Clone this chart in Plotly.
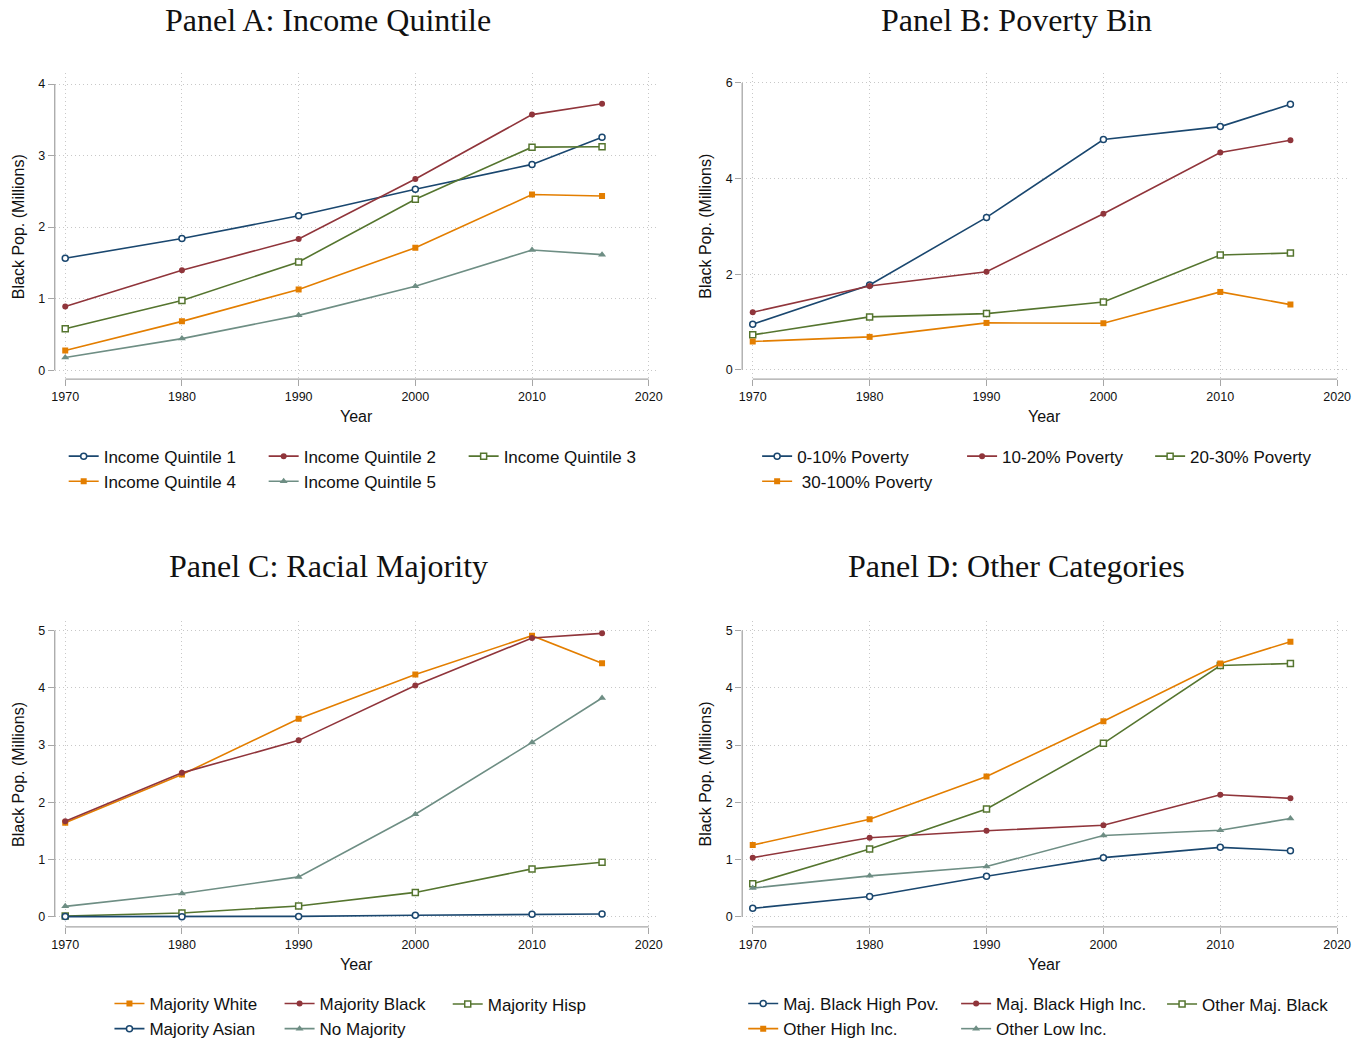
import plotly.graph_objects as go

W, H = 1372, 1047

years = [1970, 1980, 1990, 2000, 2010, 2016]

# Panel A: Income Quintile
inc_q1 = [1.564, 1.842, 2.158, 2.529, 2.877, 3.258]
inc_q2 = [0.891, 1.397, 1.833, 2.673, 3.573, 3.726]
inc_q3 = [0.580, 0.974, 1.513, 2.390, 3.118, 3.123]
inc_q4 = [0.274, 0.682, 1.128, 1.712, 2.455, 2.436]
inc_q5 = [0.176, 0.441, 0.766, 1.174, 1.680, 1.615]

# Panel B: Poverty Bin
pov_0_10 = [0.954, 1.775, 3.188, 4.817, 5.088, 5.554]
pov_10_20 = [1.204, 1.754, 2.053, 3.264, 4.545, 4.803]
pov_20_30 = [0.731, 1.107, 1.176, 1.420, 2.401, 2.443]
pov_30_100 = [0.592, 0.689, 0.981, 0.974, 1.629, 1.364]

# Panel C: Racial Majority
maj_white = [1.642, 2.486, 3.457, 4.231, 4.908, 4.428]
maj_black = [1.671, 2.514, 3.081, 4.040, 4.867, 4.948]
maj_hisp = [0.017, 0.069, 0.191, 0.428, 0.838, 0.954]
maj_asian = [0.006, 0.005, 0.010, 0.030, 0.046, 0.052]
no_major = [0.185, 0.410, 0.699, 1.792, 3.046, 3.821]

# Panel D: Other Categories
mb_high_pov = [0.150, 0.358, 0.711, 1.035, 1.214, 1.156]
mb_high_inc = [1.035, 1.382, 1.503, 1.601, 2.133, 2.069]
oth_maj_black = [0.578, 1.185, 1.884, 3.029, 4.387, 4.422]
oth_high_inc = [1.254, 1.705, 2.451, 3.416, 4.422, 4.803]
oth_low_inc = [0.503, 0.717, 0.879, 1.422, 1.514, 1.717]

x_ticks = [1970, 1980, 1990, 2000, 2010, 2020]
y_ticks_a = [0, 1, 2, 3, 4]
y_ticks_b = [0, 2, 4, 6]
y_ticks_c = [0, 1, 2, 3, 4, 5]
y_ticks_d = [0, 1, 2, 3, 4, 5]

titles = ["Panel A: Income Quintile", "Panel B: Poverty Bin",
          "Panel C: Racial Majority", "Panel D: Other Categories"]

NAVY = "#1a476f"
MAROON = "#90353b"
GREEN = "#55752f"
ORANGE = "#e37e00"
TEAL = "#6e8e84"

STYLE = {
    "hcircle": (NAVY, "circle", True),
    "scircle": (MAROON, "circle", False),
    "hsquare": (GREEN, "square", True),
    "ssquare": (ORANGE, "square", False),
    "tri": (TEAL, "triangle-up", False),
}

SANS = "Arial, Liberation Sans, Helvetica, sans-serif"
SERIF = "Times New Roman, Liberation Serif, Times, serif"

fig = go.Figure()


def px_x(p):
    return p / W


def px_y(p):
    return 1 - p / H


# panel geometry (pixels)
panels = [
    dict(ax="", xd=(52, 659), yd=(74, 382), yr=(-0.125, 4.149), yt=y_ticks_a, title_c=(327, 20)),
    dict(ax="2", xd=(743, 1351), yd=(74, 382), yr=(-0.194, 6.2), yt=y_ticks_b, title_c=(1019, 20)),
    dict(ax="3", xd=(52, 659), yd=(626, 934), yr=(-0.173, 5.16), yt=y_ticks_c, title_c=(327, 570)),
    dict(ax="4", xd=(743, 1351), yd=(626, 934), yr=(-0.173, 5.16), yt=y_ticks_d, title_c=(1019, 570)),
]

series = [
    # panel, name, data, style, legend column index within panel
    (0, "Income Quintile 1", inc_q1, "hcircle", 0),
    (0, "Income Quintile 2", inc_q2, "scircle", 1),
    (0, "Income Quintile 3", inc_q3, "hsquare", 2),
    (0, "Income Quintile 4", inc_q4, "ssquare", 0),
    (0, "Income Quintile 5", inc_q5, "tri", 1),
    (1, "0-10% Poverty", pov_0_10, "hcircle", 0),
    (1, "10-20% Poverty", pov_10_20, "scircle", 1),
    (1, "20-30% Poverty", pov_20_30, "hsquare", 2),
    (1, "\u00a030-100% Poverty", pov_30_100, "ssquare", 0),
    (2, "Majority White", maj_white, "ssquare", 0),
    (2, "Majority Black", maj_black, "scircle", 1),
    (2, "Majority Hisp", maj_hisp, "hsquare", 2),
    (2, "Majority Asian", maj_asian, "hcircle", 0),
    (2, "No Majority", no_major, "tri", 1),
    (3, "Maj. Black High Pov.", mb_high_pov, "hcircle", 0),
    (3, "Maj. Black High Inc.", mb_high_inc, "scircle", 1),
    (3, "Other Maj. Black", oth_maj_black, "hsquare", 2),
    (3, "Other High Inc.", oth_high_inc, "ssquare", 0),
    (3, "Other Low Inc.", oth_low_inc, "tri", 1),
]

# legend column text start x (px) and first row center y (px)
legend_cols = [
    [104, 305, 506],
    [801, 1007, 1196],
    [150, 321, 490],
    [787, 1001, 1208],
]
legend_row1 = [459, 459, 1011, 1011]

TEXT_OFF = 43  # px from legend left edge to text start
ROW_OFF = 17   # px from legend top to first row center

legend_ids = {}
lid = 0
for p in range(4):
    for c in range(3):
        lid += 1
        legend_ids[(p, c)] = "legend" if lid == 1 else f"legend{lid}"

for p, name, data, sty, col in series:
    color, sym, hollow = STYLE[sty]
    ax = panels[p]["ax"]
    size = 7 if sym == "triangle-up" else 6
    marker = dict(symbol=sym, size=size,
                  color="white" if hollow else color,
                  line=dict(color=color, width=1.5 if hollow else 0))
    fig.add_trace(go.Scatter(
        x=years, y=data, name=name, mode="lines+markers",
        line=dict(color=color, width=1.6),
        marker=marker,
        xaxis="x" + ax, yaxis="y" + ax,
        legend=legend_ids[(p, col)],
    ))

layout = dict(
    width=W, height=H,
    margin=dict(l=0, r=0, t=0, b=0),
    paper_bgcolor="white", plot_bgcolor="white",
    font=dict(family=SANS, color="#111111"),
    annotations=[], shapes=[],
)

GRID = "#c8c8c8"
AXC = "#a6a6a6"

for i, pn in enumerate(panels):
    ax = pn["ax"]
    xkey = "xaxis" + ax
    ykey = "yaxis" + ax
    layout[xkey] = dict(
        domain=[px_x(pn["xd"][0]), px_x(pn["xd"][1])],
        range=[1969.1, 2020.85],
        anchor="y" + ax,
        tickvals=x_ticks, ticks="outside", ticklen=6, tickcolor=AXC, tickwidth=1,
        tickfont=dict(size=12.5, family=SANS, color="#111111"),
        showgrid=True, gridcolor=GRID, griddash="1px,3px", gridwidth=1,
        showline=False, zeroline=False, fixedrange=True,
    )
    layout[ykey] = dict(
        domain=[px_y(pn["yd"][1]), px_y(pn["yd"][0])],
        range=list(pn["yr"]),
        anchor="x" + ax,
        tickvals=pn["yt"], ticks="outside", ticklen=6, tickcolor=AXC, tickwidth=1,
        tickfont=dict(size=12.5, family=SANS, color="#111111"),
        showgrid=True, gridcolor=GRID, griddash="1px,3px", gridwidth=1,
        showline=False, zeroline=False, fixedrange=True,
    )
    xr = "x" + ax
    yr = "y" + ax
    # axis lines spanning the tick range (Stata style)
    layout["shapes"].append(dict(type="line", xref=xr, yref=yr + " domain",
                                 x0=x_ticks[0], x1=x_ticks[-1], y0=0, y1=0,
                                 line=dict(color=AXC, width=1.3)))
    layout["shapes"].append(dict(type="line", xref=xr + " domain", yref=yr,
                                 x0=0, x1=0, y0=pn["yt"][0], y1=pn["yt"][-1],
                                 line=dict(color=AXC, width=1.3)))
    # panel title
    layout["annotations"].append(dict(
        text=titles[i], xref="paper", yref="paper",
        x=px_x(pn["title_c"][0]), y=px_y(pn["title_c"][1]),
        xanchor="center", yanchor="middle", showarrow=False,
        font=dict(family=SERIF, size=32, color="#111111")))
    # axis titles
    layout["annotations"].append(dict(
        text="Year", xref=xr + " domain", yref="paper",
        x=0.5, y=px_y(pn["yd"][1] + 38),
        xanchor="center", yanchor="middle", showarrow=False,
        font=dict(family=SANS, size=16, color="#111111")))
    layout["annotations"].append(dict(
        text="Black Pop. (Millions)", xref="paper", yref=yr + " domain",
        x=px_x(pn["xd"][0] - 37), y=0.5, textangle=-90,
        xanchor="center", yanchor="middle", showarrow=False,
        font=dict(family=SANS, size=16, color="#111111")))
    # legends
    for c in range(3):
        key = legend_ids[(i, c)]
        layout[key] = dict(
            x=px_x(legend_cols[i][c] - TEXT_OFF),
            y=px_y(legend_row1[i] - ROW_OFF),
            xanchor="left", yanchor="top", orientation="v",
            font=dict(family=SANS, size=17, color="#111111"),
            bgcolor="rgba(0,0,0,0)", borderwidth=0,
            itemwidth=30, tracegroupgap=0,
        )

fig.update_layout(**layout)
fig.write_html("out.html")
